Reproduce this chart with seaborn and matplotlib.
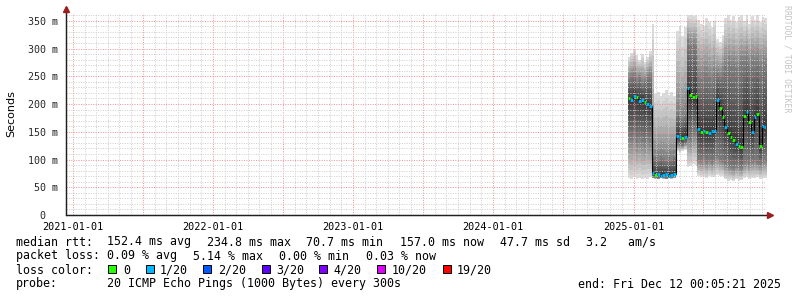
import numpy as np
import pandas as pd
import matplotlib
matplotlib.use("Agg")
import matplotlib.pyplot as plt
import matplotlib.dates as mdates
from matplotlib.ticker import MultipleLocator, FuncFormatter
from matplotlib.patches import Rectangle
import seaborn as sns

# ---------------- data (weekly bins, values in ms) ----------------
bin_start = "2024-12-16"
n_bins = 52
end_time = "2025-12-12 00:05:21"
x_start = "2020-12-13"

median_ms = [210, 208, 215, 212, 205, 208, 203, 200, 196,
             75, 72, 73, 71, 72, 73, 71, 72, 74,
             142, 140, 138, 141,
             228, 216, 212, 214,
             155, 150, 152, 149, 148, 151, 152,
             207, 192, 176, 158, 147, 140, 135, 128, 125, 122,
             178, 186, 168, 150, 176, 182, 124, 160, 158]
min_ms = [66, 64, 68, 65, 67, 64, 66, 65, 68,
          66, 65, 64, 66, 65, 64, 66, 65, 66,
          115, 112, 116, 118,
          86, 88, 92, 90,
          70, 68, 69, 67, 70, 68, 69,
          72, 70, 71, 64, 62, 63, 61, 64, 62, 63,
          66, 68, 65, 67, 66, 68, 65, 67, 66]
lo_ms = [140, 135, 145, 130, 138, 132, 128, 135, 130,
         68, 67, 66, 68, 67, 66, 68, 67, 68,
         128, 126, 125, 129,
         140, 135, 145, 150,
         100, 98, 104, 96, 100, 94, 99,
         105, 100, 96, 92, 88, 86, 84, 88, 86, 84,
         94, 98, 92, 96, 100, 94, 91, 96, 98]
hi_ms = [245, 250, 255, 240, 248, 238, 242, 250, 252,
         110, 104, 100, 106, 102, 98, 105, 100, 104,
         185, 180, 175, 182,
         315, 305, 310, 305,
         250, 245, 260, 255, 248, 240, 255,
         255, 250, 260, 270, 275, 268, 272, 265, 270, 275,
         278, 285, 272, 280, 275, 282, 270, 278, 272]
max_ms = [285, 292, 298, 288, 280, 290, 276, 284, 296,
          345, 218, 222, 214, 220, 226, 216, 221, 215,
          332, 340, 322, 338,
          360, 360, 358, 360,
          352, 345, 340, 355, 348, 338, 350,
          318, 312, 325, 355, 360, 352, 358, 348, 356, 360,
          350, 360, 345, 358, 352, 360, 348, 356, 355]
loss_count = [0, 1, 1, 0, 1, 1, 0, 1, 1,
              1, 0, 1, 1, 1, 1, 1, 1, 1,
              1, 1, 0, 1,
              1, 0, 0, 0,
              1, 0, 1, 0, 1, 1, 1,
              1, 0, 0, 1, 0, 0, 0, 1, 0, 0,
              0, 1, 0, 1, 1, 0, 0, 1, 1]

y_ticks = [0, 50, 100, 150, 200, 250, 300, 350]
y_tick_labels = ["0  ", "50 m", "100 m", "150 m", "200 m", "250 m", "300 m", "350 m"]

loss_labels = ["0", "1/20", "2/20", "3/20", "4/20", "10/20", "19/20"]
loss_colors = ["#26ff00", "#00b8ff", "#0059ff", "#5e00ff", "#7e00ff", "#dd00ff", "#ff0000"]

row1 = [("median rtt:", 16), ("152.4 ms avg", 107), ("234.8 ms max", 207), ("70.7 ms min", 306),
        ("157.0 ms now", 400), ("47.7 ms sd", 500), ("3.2   am/s", 586)]
row2 = [("packet loss:", 16), ("0.09 % avg", 107), ("5.14 % max", 193), ("0.00 % min", 279),
        ("0.03 % now", 366)]
row4 = [("probe:", 16), ("20 ICMP Echo Pings (1000 Bytes) every 300s", 107),
        ("end: Fri Dec 12 00:05:21 2025", 578)]

# ---------------- figure ----------------
sns.set_theme(style="white")
plt.rcParams["font.family"] = ["DejaVu Sans Mono", "DejaVu Sans"]

W, H = 797, 297
fig = plt.figure(figsize=(W / 100, H / 100), dpi=100)
fig.patch.set_facecolor("white")
ax = fig.add_axes([66 / W, 1 - 215 / H, 700 / W, 202 / H])
ax.set_facecolor("white")

dates = pd.date_range(bin_start, periods=n_bins, freq="7D")
edges = pd.date_range(bin_start, periods=n_bins + 1, freq="7D")
df = pd.DataFrame({"date": dates, "median": median_ms, "min": min_ms, "lo": lo_ms,
                   "hi": hi_ms, "max": max_ms, "loss": loss_count})

def ext(a):
    a = np.asarray(a, dtype=float)
    return np.append(a, a[-1])

mn, lo, md, hi, mx = (ext(df[c]) for c in ["min", "lo", "median", "hi", "max"])

# smoke: nested bands from outside (light) to inside (dark)
n_out, n_in = 8, 8
out_grays = np.linspace(0.86, 0.52, n_out)
in_grays = np.linspace(0.48, 0.24, n_in)
for k in range(n_out):
    t = k / n_out
    lower = mn + t * (lo - mn)
    upper = mx + t * (hi - mx)
    g = out_grays[k]
    ax.fill_between(edges, lower, upper, step="post", color=(g, g, g), lw=0, zorder=1)
for k in range(n_in):
    t = k / n_in
    lower = lo + t * (md - lo)
    upper = hi + t * (md - hi)
    g = in_grays[k]
    ax.fill_between(edges, lower, upper, step="post", color=(g, g, g), lw=0, zorder=1)

# median line (black step) with loss-coloured segments
med_df = pd.DataFrame({"date": edges, "median": md})
sns.lineplot(data=med_df, x="date", y="median", drawstyle="steps-post", color="black",
             lw=0.8, ax=ax, zorder=3)
seg_colors = [loss_colors[0] if l == 0 else loss_colors[1] for l in loss_count]
ax.hlines(df["median"], edges[:-1], edges[1:], colors=seg_colors, lw=2.0, zorder=4)

# axes limits / grid
ax.set_xlim(pd.Timestamp(x_start), pd.Timestamp(end_time))
ax.set_ylim(0, 364)
ax.set_xlabel("")
ax.set_ylabel("")

ax.xaxis.set_major_locator(mdates.MonthLocator(bymonth=[1, 7]))
ax.xaxis.set_minor_locator(mdates.MonthLocator())
ax.xaxis.set_major_formatter(FuncFormatter(
    lambda v, p: mdates.num2date(v).strftime("%Y-%m-%d") if mdates.num2date(v).month == 1 else ""))
ax.yaxis.set_major_locator(matplotlib.ticker.FixedLocator(y_ticks))
ax.yaxis.set_minor_locator(MultipleLocator(10))
ax.set_yticklabels(y_tick_labels)

ax.set_axisbelow(False)
ax.grid(which="minor", color="#cdcdcd", lw=0.7, linestyle=(0, (1, 1.5)))
ax.grid(which="major", color="#f09090", lw=0.7, linestyle=(0, (1, 1.5)))

ax.tick_params(axis="x", which="major", length=2, color="#f09090", pad=3, labelsize=7.3,
               labelcolor="black")
ax.tick_params(axis="x", which="minor", length=2, color="#c8c8c8")
ax.tick_params(axis="y", which="major", length=2, color="#f09090", pad=3.5, labelsize=7.2)
ax.tick_params(axis="y", which="minor", length=2, color="#c8c8c8")

for s in ["top", "right"]:
    ax.spines[s].set_visible(False)
for s in ["left", "bottom"]:
    ax.spines[s].set_color("#202020")
    ax.spines[s].set_linewidth(0.9)
    ax.spines[s].set_zorder(5)

# axis arrows
arrow_c = "#9b1c1c"
ax.plot([1.0 + 4 / 700], [0], marker=">", color=arrow_c, ms=4, transform=ax.transAxes,
        clip_on=False, zorder=6)
ax.plot([0, 1.0 + 3 / 700], [0, 0], color="#202020", lw=0.9, transform=ax.transAxes,
        clip_on=False, zorder=5)
ax.plot([0], [1.0 + 4 / 202], marker="^", color=arrow_c, ms=4, transform=ax.transAxes,
        clip_on=False, zorder=6)
ax.plot([0, 0], [0, 1.0 + 3 / 202], color="#202020", lw=0.9, transform=ax.transAxes,
        clip_on=False, zorder=5)

# y label and watermark
fig.text(11 / W, 1 - 114 / H, "Seconds", rotation=90, ha="center", va="center",
         fontsize=8, family="DejaVu Sans", color="black")
fig.text(787 / W, 1 - 59 / H, "RRDTOOL / TOBI OETIKER", rotation=270, ha="center",
         va="center", fontsize=5.9, family="DejaVu Sans Mono", color="#c4c4c4")

# legend rows
fs = 8.35
def put_row(items, y_base):
    for txt, x in items:
        fig.text(x / W, 1 - y_base / H, txt, ha="left", va="baseline", fontsize=fs,
                 family="DejaVu Sans Mono", color="black")

put_row(row1, 245.5)
put_row(row2, 259.5)
put_row([("loss color:", 16)], 273.5)
put_row(row4, 287.5)

sq_x = [108, 146, 203, 262, 319, 377, 443]
lab_x = [123, 160, 218, 276, 333, 392, 457]
for lab, c, sx, lx in zip(loss_labels, loss_colors, sq_x, lab_x):
    fig.add_artist(Rectangle((sx / W, 1 - 273 / H), 7.5 / W, 8 / H, transform=fig.transFigure,
                             facecolor=c, edgecolor="black", lw=0.7))
    fig.text(lx / W, 1 - 273.5 / H, lab, ha="left", va="baseline", fontsize=fs,
             family="DejaVu Sans Mono", color="black")

fig.savefig("out.png", dpi=100)
